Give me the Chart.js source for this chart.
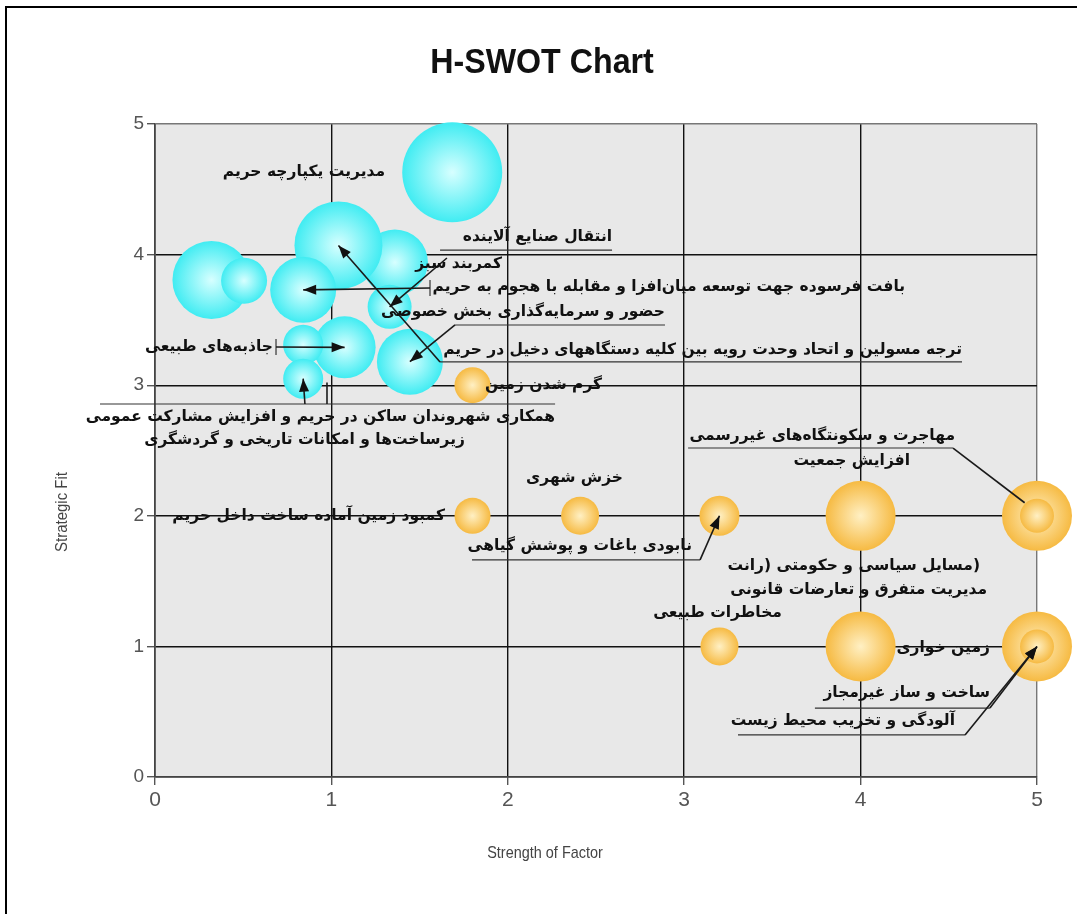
<!DOCTYPE html>
<html>
<head>
<meta charset="utf-8">
<title>H-SWOT Chart</title>
<script src="https://cdn.jsdelivr.net/npm/chart.js@4.4.1/dist/chart.umd.min.js"></script>
<style>
  html, body { margin: 0; padding: 0; background: #fff; }
  canvas { display: block; }
</style>
</head>
<body>
<canvas id="swot" width="1077" height="914"></canvas>
<script>
// cyan group: strength of factor / strategic fit / bubble radius (px)
const cyanX = [1.36, 1.04, 0.84, 1.33, 1.445, 1.075, 0.84, 0.84, 0.32, 0.505, 1.685];
const cyanY = [3.94, 4.07, 3.73, 3.60, 3.18, 3.29, 3.31, 3.05, 3.806, 3.80, 4.63];
const cyanR = [33, 44, 33, 22, 33, 31, 20, 20, 39, 23, 50];

// orange group
const orangeX = [1.8, 1.8, 2.41, 3.2, 4.0, 5.0, 5.0, 3.2, 4.0, 5.0, 5.0];
const orangeY = [3.0, 2.0, 2.0, 2.0, 2.0, 2.0, 2.0, 1.0, 1.0, 1.0, 1.0];
const orangeR = [18, 18, 19, 20, 35, 35, 17, 19, 35, 35, 17];

const xTicks = [0, 1, 2, 3, 4, 5];
const yTicks = [0, 1, 2, 3, 4, 5];

// labels: text, anchor x/y (data units), align
const labels = [
  { t: "مدیریت یکپارچه حریم", x: 1.304, y: 4.632, a: "right" },
  { t: "انتقال صنایع آلاینده", x: 2.591, y: 4.135, a: "right" },
  { t: "کمربند سبز", x: 1.967, y: 3.928, a: "right" },
  { t: "بافت فرسوده جهت توسعه میان‌افزا و مقابله با هجوم به حریم", x: 4.252, y: 3.752, a: "right" },
  { t: "حضور و سرمایه‌گذاری بخش خصوصی", x: 2.891, y: 3.561, a: "right" },
  { t: "ترجه مسولین و اتحاد وحدت رویه بین کلیه دستگاههای دخیل در حریم", x: 4.575, y: 3.27, a: "right" },
  { t: "جاذبه‌های طبیعی", x: 0.669, y: 3.292, a: "right" },
  { t: "گرم شدن زمین", x: 1.871, y: 3.002, a: "left" },
  { t: "همکاری شهروندان ساکن در حریم و افزایش مشارکت عمومی", x: 2.268, y: 2.757, a: "right" },
  { t: "زیرساخت‌ها و امکانات تاریخی و گردشگری", x: 1.757, y: 2.58, a: "right" },
  { t: "کمبود زمین آماده ساخت داخل حریم", x: 1.644, y: 1.998, a: "right" },
  { t: "خزش شهری", x: 2.653, y: 2.289, a: "right" },
  { t: "نابودی باغات و پوشش گیاهی", x: 3.044, y: 1.769, a: "right" },
  { t: "مهاجرت و سکونتگاه‌های غیررسمی", x: 4.535, y: 2.611, a: "right" },
  { t: "افزایش جمعیت", x: 4.28, y: 2.42, a: "right" },
  { t: "(مسایل سیاسی و حکومتی (رانت", x: 4.677, y: 1.616, a: "right" },
  { t: "مدیریت متفرق و تعارضات قانونی", x: 4.717, y: 1.432, a: "right" },
  { t: "مخاطرات طبیعی", x: 3.554, y: 1.256, a: "right" },
  { t: "زمین خواری", x: 4.733, y: 0.988, a: "right" },
  { t: "ساخت و ساز غیرمجاز", x: 4.733, y: 0.643, a: "right" },
  { t: "آلودگی و تخریب محیط زیست", x: 4.535, y: 0.429, a: "right" }
];

// rules under / over labels: x from, x to, y
const rules = [
  [1.616, 2.591, 4.035], [1.701, 2.891, 3.461], [1.616, 4.575, 3.178],
  [-0.312, 2.268, 2.856], [1.797, 3.09, 1.662], [3.022, 4.524, 2.519],
  [3.741, 4.733, 0.528], [3.305, 4.592, 0.322]
];
const brackets = [[1.559, 3.744], [0.686, 3.292]];

// leaders: start (data units) -> bubble of group g, index i
const leaders = [
  { x: 1.616, y: 3.178, g: "c", i: 1, head: true },
  { x: 1.559, y: 3.744, g: "c", i: 2, head: true },
  { x: 1.655, y: 3.974, g: "c", i: 3, head: true },
  { x: 1.701, y: 3.461, g: "c", i: 4, head: true },
  { x: 0.686, y: 3.292, g: "c", i: 5, head: true },
  { x: 0.85, y: 2.856, g: "c", i: 7, head: true },
  { x: 3.09, y: 1.662, g: "o", i: 3, head: true },
  { x: 4.733, y: 0.528, g: "o", i: 9, head: true },
  { x: 4.592, y: 0.322, g: "o", i: 9, head: true }
];
// plain segments
const segments = [[0.975, 2.856, 0.975, 3.02], [4.524, 2.519, 4.93, 2.1]];

const latin = '"Liberation Sans Narrow", "Liberation Sans", Arial, sans-serif';

function points(xs, ys, rs) {
  return xs.map((x, i) => ({ x: x, y: ys[i], r: rs[i] }));
}

function shade(inner, outer) {
  return c => {
    if (c.type !== "data") return outer;
    const ch = c.chart;
    if (!ch.chartArea || !ch.scales.x) return outer;
    const cx = ch.scales.x.getPixelForValue(c.raw.x);
    const cy = ch.scales.y.getPixelForValue(c.raw.y);
    const g = ch.ctx.createRadialGradient(cx, cy, 0, cx, cy, c.raw.r);
    g.addColorStop(0, inner);
    g.addColorStop(1, outer);
    return g;
  };
}

function arrow(ctx, x1, y1, x2, y2, head) {
  ctx.beginPath(); ctx.moveTo(x1, y1); ctx.lineTo(x2, y2); ctx.stroke();
  if (!head) return;
  const a = Math.atan2(y2 - y1, x2 - x1), L = 13, W = 5;
  ctx.beginPath();
  ctx.moveTo(x2, y2);
  ctx.lineTo(x2 - L * Math.cos(a) + W * Math.sin(a), y2 - L * Math.sin(a) - W * Math.cos(a));
  ctx.lineTo(x2 - L * Math.cos(a) - W * Math.sin(a), y2 - L * Math.sin(a) + W * Math.cos(a));
  ctx.closePath(); ctx.fill();
}

function squeezed(ctx, text, x, y, sx) {
  ctx.save();
  ctx.translate(x, y);
  ctx.scale(sx, 1);
  ctx.fillText(text, 0, 0);
  ctx.restore();
}

const decor = {
  id: "decor",
  beforeDraw(chart) {
    const { ctx, chartArea: a } = chart;
    ctx.save();
    ctx.fillStyle = "#fff";
    ctx.fillRect(0, 0, chart.width, chart.height);
    ctx.fillStyle = "#000";
    ctx.fillRect(5, 6, chart.width, 2);
    ctx.fillRect(5, 6, 2, chart.height);
    ctx.fillStyle = "#e8e8e8";
    ctx.fillRect(a.left, a.top, a.right - a.left, a.bottom - a.top);
    // titles
    ctx.fillStyle = "#111";
    ctx.textAlign = "center";
    ctx.textBaseline = "middle";
    ctx.font = "bold 35px " + latin;
    squeezed(ctx, "H-SWOT Chart", 542, 63, 0.92);
    ctx.fillStyle = "#444";
    ctx.font = "17px " + latin;
    squeezed(ctx, "Strength of Factor", 545, 853, 0.85);
    ctx.translate(62, 512);
    ctx.rotate(-Math.PI / 2);
    ctx.font = "17px " + latin;
    squeezed(ctx, "Strategic Fit", 0, 0, 0.88);
    ctx.restore();
  },
  afterDatasetsDraw(chart) {
    const ctx = chart.ctx, sx = chart.scales.x, sy = chart.scales.y;
    const X = v => sx.getPixelForValue(v), Y = v => sy.getPixelForValue(v);
    ctx.save();
    ctx.strokeStyle = "#333";
    ctx.lineWidth = 1.2;
    rules.forEach(r => {
      ctx.beginPath(); ctx.moveTo(X(r[0]), Y(r[2])); ctx.lineTo(X(r[1]), Y(r[2])); ctx.stroke();
    });
    brackets.forEach(b => {
      ctx.beginPath(); ctx.moveTo(X(b[0]), Y(b[1]) - 8); ctx.lineTo(X(b[0]), Y(b[1]) + 8); ctx.stroke();
    });
    ctx.strokeStyle = "#1a1a1a";
    ctx.fillStyle = "#111";
    ctx.lineWidth = 1.6;
    leaders.forEach(l => {
      const tx = l.g === "c" ? cyanX[l.i] : orangeX[l.i];
      const ty = l.g === "c" ? cyanY[l.i] : orangeY[l.i];
      arrow(ctx, X(l.x), Y(l.y), X(tx), Y(ty), l.head);
    });
    segments.forEach(s => arrow(ctx, X(s[0]), Y(s[1]), X(s[2]), Y(s[3]), false));
    ctx.fillStyle = "#111";
    ctx.textBaseline = "middle";
    ctx.direction = "rtl";
    ctx.font = 'bold 15.5px "DejaVu Sans", sans-serif';
    labels.forEach(l => {
      ctx.textAlign = l.a;
      ctx.fillText(l.t, X(l.x), Y(l.y));
    });
    ctx.restore();
  }
};

const tickFont = { family: latin };

new Chart(document.getElementById("swot"), {
  type: "bubble",
  data: {
    datasets: [
      {
        label: "cyan",
        data: points(cyanX, cyanY, cyanR),
        backgroundColor: shade("rgba(215,255,255,1)", "rgba(64,236,242,1)"),
        borderWidth: 0,
        clip: false
      },
      {
        label: "orange",
        data: points(orangeX, orangeY, orangeR),
        backgroundColor: shade("rgba(255,240,196,1)", "rgba(246,186,66,1)"),
        borderWidth: 0,
        clip: false
      }
    ]
  },
  options: {
    responsive: false,
    animation: false,
    events: [],
    layout: { autoPadding: false, padding: { top: 124, right: 40, left: 0, bottom: 0 } },
    plugins: { legend: { display: false }, tooltip: { enabled: false }, title: { display: false } },
    scales: {
      x: {
        type: "linear", min: 0, max: 5,
        afterBuildTicks: s => { s.ticks = xTicks.map(v => ({ value: v })); },
        afterFit: s => { s.height = 137; },
        ticks: { color: "#555", padding: 3, font: Object.assign({ size: 21 }, tickFont) },
        grid: { color: c => c.tick && c.tick.value === 5 ? "#777" : "#111", lineWidth: 1.4, tickLength: 8, tickColor: "#555" },
        border: { color: "#444", width: 1.6 }
      },
      y: {
        type: "linear", min: 0, max: 5,
        afterBuildTicks: s => { s.ticks = yTicks.map(v => ({ value: v })); },
        afterFit: s => { s.width = 155; },
        ticks: { color: "#555", padding: 3, font: Object.assign({ size: 19 }, tickFont) },
        grid: { color: c => c.tick && c.tick.value === 5 ? "#777" : "#111", lineWidth: 1.4, tickLength: 8, tickColor: "#555" },
        border: { color: "#444", width: 1.6 }
      }
    }
  },
  plugins: [decor]
});
</script>
</body>
</html>
